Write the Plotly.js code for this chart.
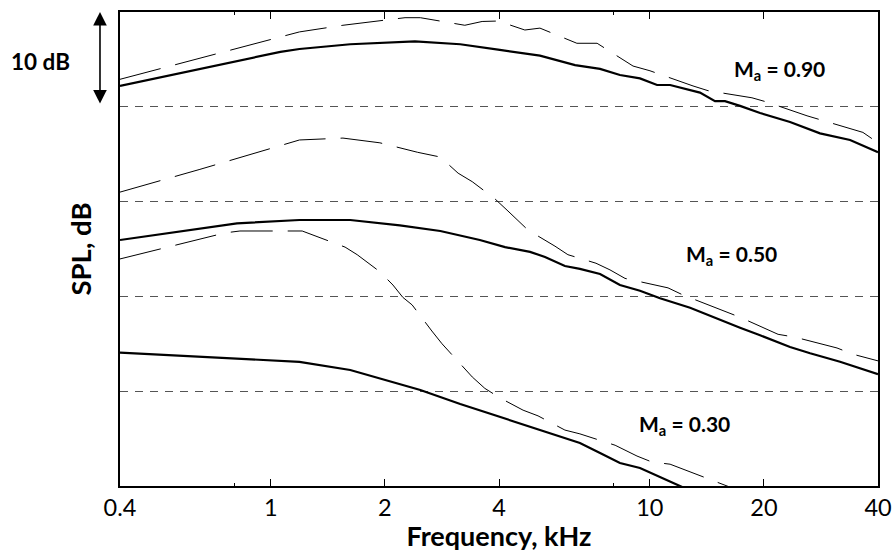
<!DOCTYPE html>
<html>
<head>
<meta charset="utf-8">
<script src="https://cdn.plot.ly/plotly-3.0.1.min.js"></script>
<style>html,body{margin:0;padding:0;background:#fff;}#chart{width:894px;height:552px;}</style>
</head>
<body>
<div id="chart"></div>
<script>
// Frequency (kHz) and SPL (dB, relative offset scale)
const f90Solid = [0.4, 1.06, 1.19, 1.62, 2.40, 3.16, 4.02, 5.13, 6.35, 7.39, 8.34, 9.42, 10.45, 11.31, 13.56, 14.86, 15.79, 17.30, 19.54, 23.44, 28.12, 33.76, 40];
const spl90Solid = [42.2, 45.8, 46.1, 46.6, 46.9, 46.6, 46.0, 45.4, 44.4, 44.0, 43.35, 43.0, 42.3, 42.3, 41.5, 40.6, 40.6, 40.1, 39.35, 38.4, 37.2, 36.5, 35.2];
const f90Dash = [0.4, 1.19, 1.55, 1.94, 2.26, 2.48, 3.25, 3.61, 3.98, 4.68, 5.13, 6.42, 7.26, 9.03, 10.01, 13.0, 14.24, 18.6, 20.37, 25.99, 28.46, 36.5, 40];
const spl90Dash = [42.9, 47.9, 48.6, 49.05, 49.4, 49.4, 48.6, 49.0, 49.05, 48.1, 48.3, 46.7, 46.7, 44.3, 43.8, 42.2, 41.7, 40.95, 40.5, 39.05, 38.6, 37.3, 36.2];

const f50Solid = [0.4, 0.814, 1.19, 1.62, 2.19, 2.80, 3.56, 4.15, 4.83, 5.29, 5.97, 6.54, 7.39, 8.34, 9.42, 10.64, 12.77, 15.32, 17.30, 19.54, 23.44, 26.48, 31.76, 40];
const spl50Solid = [25.95, 27.7, 28.06, 28.06, 27.5, 26.9, 25.95, 25.2, 24.7, 24.16, 23.2, 22.9, 22.36, 21.2, 20.6, 19.8, 18.8, 17.5, 16.7, 15.9, 14.66, 14.0, 13.1, 11.8];
const f50Dash = [0.4, 0.65, 1.19, 1.55, 1.94, 2.23, 2.44, 2.80, 3.12, 3.40, 3.90, 4.20, 4.77, 5.62, 6.08, 7.21, 7.85, 8.60, 11.17, 12.23, 15.6, 17.3, 21.8, 24.16, 31.18, 34.36, 40];
const spl50Dash = [31.0, 33.4, 36.5, 36.7, 36.2, 35.55, 35.2, 34.7, 33.0, 32.1, 30.3, 29.1, 27.0, 25.3, 24.4, 23.5, 22.8, 21.9, 20.9, 20.15, 18.5, 17.8, 16.0, 15.7, 14.56, 13.9, 13.2];

const f30Solid = [0.4, 1.19, 1.62, 2.19, 2.48, 3.16, 4.02, 4.83, 5.80, 6.54, 7.39, 8.34, 9.42, 10.64, 12.01, 13.56];
const spl30Solid = [14.06, 13.1, 12.24, 10.76, 10.13, 8.65, 7.28, 6.22, 5.17, 4.54, 3.48, 2.43, 1.9, 0.95, 0.0, -0.95];
const f30Dash = [0.4, 0.526, 0.757, 0.829, 1.097, 1.21, 1.57, 1.69, 1.94, 2.10, 2.23, 2.36, 2.66, 2.83, 3.40, 3.67, 4.02, 4.63, 5.07, 5.97, 6.54, 7.17, 8.10, 9.25, 10.13, 11.31, 13.0, 14.24, 15.98, 17.5];
const spl30Dash = [23.95, 25.1, 26.7, 26.9, 26.9, 26.9, 25.2, 24.4, 22.6, 21.2, 19.9, 19.1, 16.35, 15.0, 11.5, 10.3, 9.3, 8.0, 7.4, 5.9, 5.5, 4.96, 4.3, 3.16, 2.53, 2.3, 1.37, 0.74, 0.0, -0.6];

const tickVals = [0.4, 1, 2, 4, 10, 20, 40];
const tickText = ['0.4', '1', '2', '4', '10', '20', '40'];
const minorTickVals = [0.8, 8];
const gridVals = [10, 20, 30, 40];

const solid = {color: '#000', width: 2.2};
const dashed = {color: '#000', width: 1, dash: '42px,15px'};

const traces = [
  {x: f90Solid, y: spl90Solid, line: solid},
  {x: f90Dash, y: spl90Dash, line: dashed},
  {x: f50Solid, y: spl50Solid, line: solid},
  {x: f50Dash, y: spl50Dash, line: dashed},
  {x: f30Solid, y: spl30Solid, line: solid},
  {x: f30Dash, y: spl30Dash, line: dashed}
].map(t => Object.assign({type: 'scatter', mode: 'lines', hoverinfo: 'skip', showlegend: false}, t));

const labelFont = {family: 'Lato, sans-serif', size: 21, color: '#000', weight: 'bold'};

const layout = {
  width: 894, height: 552,
  margin: {l: 120, r: 16, t: 12, b: 66},
  paper_bgcolor: '#fff', plot_bgcolor: '#fff',
  font: {family: 'Lato, sans-serif', color: '#000'},
  showlegend: false,
  xaxis: {
    type: 'log', range: [Math.log10(0.4), Math.log10(40)],
    tickmode: 'array', tickvals: tickVals, ticktext: tickText,
    ticks: 'inside', ticklen: 7, tickwidth: 1, tickcolor: '#000',
    minor: {tickmode: 'array', tickvals: minorTickVals, ticks: 'inside', ticklen: 3, tickwidth: 1, tickcolor: '#000', showgrid: false},
    showline: true, linecolor: '#000', linewidth: 2, mirror: 'ticks',
    showgrid: false, zeroline: false,
    tickfont: {family: 'Lato, sans-serif', size: 23.5, color: '#000'},
    title: {text: 'Frequency, kHz', font: {family: 'Lato, sans-serif', size: 27, color: '#000', weight: 'bold'}, standoff: 8}
  },
  yaxis: {
    range: [0, 50], tickmode: 'array', tickvals: gridVals,
    showticklabels: false, ticks: '',
    showgrid: true, gridcolor: '#555', gridwidth: 1, griddash: '8px,7px',
    showline: true, linecolor: '#000', linewidth: 2, mirror: true,
    zeroline: false,
    title: {text: 'SPL, dB', font: {family: 'Lato, sans-serif', size: 27.5, color: '#000', weight: 'bold'}, standoff: 18}
  },
  annotations: [
    {xref: 'paper', yref: 'y', x: 0.87, y: 43.9, text: 'M<sub>a</sub> = 0.90', showarrow: false, font: labelFont, xanchor: 'center', yanchor: 'middle'},
    {xref: 'paper', yref: 'y', x: 0.807, y: 24.4, text: 'M<sub>a</sub> = 0.50', showarrow: false, font: labelFont, xanchor: 'center', yanchor: 'middle'},
    {xref: 'paper', yref: 'y', x: 0.745, y: 6.4, text: 'M<sub>a</sub> = 0.30', showarrow: false, font: labelFont, xanchor: 'center', yanchor: 'middle'},
    {xref: 'paper', yref: 'y', x: -0.1055, y: 44.8, text: '10 dB', showarrow: false, font: {family: 'Lato, sans-serif', size: 22.5, color: '#000', weight: 'bold'}, xanchor: 'center', yanchor: 'middle'},
    {xref: 'paper', yref: 'y', x: -0.0264, y: 50, axref: 'pixel', ayref: 'pixel', ax: 0, ay: 93,
     text: '', showarrow: true, arrowhead: 2, startarrowhead: 2, arrowside: 'end+start',
     arrowsize: 1.7, startarrowsize: 1.7, arrowwidth: 1.6, arrowcolor: '#000', standoff: 0, startstandoff: 0}
  ]
};

Plotly.newPlot('chart', traces, layout, {staticPlot: true, displayModeBar: false});
</script>
</body>
</html>
